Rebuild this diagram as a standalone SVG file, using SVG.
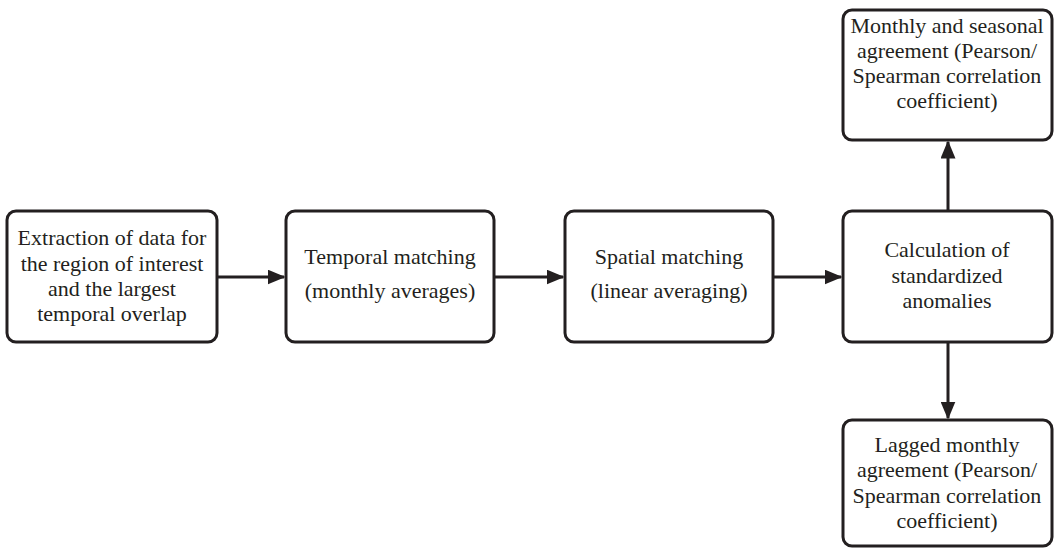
<svg xmlns="http://www.w3.org/2000/svg" width="1054" height="548" viewBox="0 0 1054 548">
<defs>
<style>
.box{fill:#fff;stroke:#231f20;stroke-width:3}
.t{font-family:"Liberation Serif",serif;font-size:22px;fill:#231f20;text-anchor:middle}
.c{stroke:#231f20;stroke-width:3;fill:none}
</style>
<marker id="ah" markerWidth="6" markerHeight="5" refX="5.5" refY="2.5" orient="auto" markerUnits="strokeWidth">
<path d="M0,0 L6,2.5 L0,5 Z" fill="#231f20"/>
</marker>
</defs>
<rect width="1054" height="548" fill="#fff"/>
<g id="connectors">
<line class="c" x1="217" y1="277" x2="284" y2="277" marker-end="url(#ah)"/>
<line class="c" x1="494" y1="277" x2="563" y2="277" marker-end="url(#ah)"/>
<line class="c" x1="773" y1="277" x2="841" y2="277" marker-end="url(#ah)"/>
<line class="c" x1="948" y1="212" x2="948" y2="142" marker-end="url(#ah)"/>
<line class="c" x1="948" y1="342" x2="948" y2="418" marker-end="url(#ah)"/>
</g>
<g id="extraction">
<rect class="box" x="7" y="211" width="210" height="131" rx="9"/>
<text class="t" x="112" y="245">Extraction of data for</text>
<text class="t" x="112" y="271">the region of interest</text>
<text class="t" x="112" y="296">and the largest</text>
<text class="t" x="112" y="321">temporal overlap</text>
</g>
<g id="temporal">
<rect class="box" x="286" y="211" width="208" height="131" rx="9"/>
<text class="t" x="390" y="264">Temporal matching</text>
<text class="t" x="390" y="298">(monthly averages)</text>
</g>
<g id="spatial">
<rect class="box" x="565" y="211" width="208" height="131" rx="9"/>
<text class="t" x="669" y="264">Spatial matching</text>
<text class="t" x="669" y="298">(linear averaging)</text>
</g>
<g id="anomalies">
<rect class="box" x="843" y="211" width="209" height="131" rx="9"/>
<text class="t" x="947" y="257">Calculation of</text>
<text class="t" x="947" y="283">standardized</text>
<text class="t" x="947" y="308">anomalies</text>
</g>
<g id="seasonal">
<rect class="box" x="843" y="10" width="209" height="130" rx="9"/>
<text class="t" x="947" y="33">Monthly and seasonal</text>
<text class="t" x="947" y="58">agreement (Pearson/</text>
<text class="t" x="947" y="83">Spearman correlation</text>
<text class="t" x="947" y="108">coefficient)</text>
</g>
<g id="lagged">
<rect class="box" x="843" y="420" width="209" height="126" rx="9"/>
<text class="t" x="947" y="452">Lagged monthly</text>
<text class="t" x="947" y="477">agreement (Pearson/</text>
<text class="t" x="947" y="503">Spearman correlation</text>
<text class="t" x="947" y="528">coefficient)</text>
</g>
</svg>
